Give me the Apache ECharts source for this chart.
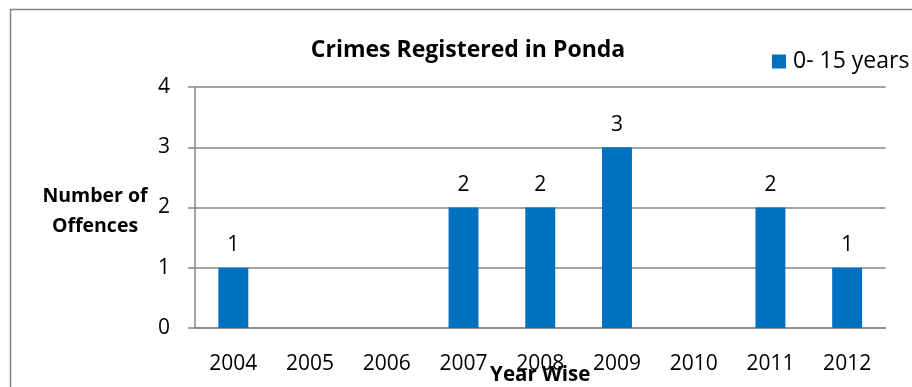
<!DOCTYPE html>
<html>
<head>
<meta charset="utf-8">
<script src="https://cdn.jsdelivr.net/npm/echarts@6/dist/echarts.min.js"></script>
<style>
  html, body { margin: 0; padding: 0; background: #fff; }
  #chart { width: 912px; height: 387px; }
</style>
</head>
<body>
<div id="chart"></div>
<script>
// Offences registered per year, age group 0-15
const years = ['2004', '2005', '2006', '2007', '2008', '2009', '2010', '2011', '2012'];
const offences = [1, null, null, 2, 2, 3, null, 2, 1];
const seriesName = '0- 15 years';
const yTicks = [0, 1, 2, 3, 4];

const FONT = '"Open Sans", "Noto Sans", sans-serif';
const GRAY = '#868686';

const chart = echarts.init(document.getElementById('chart'), null, { renderer: 'canvas' });
chart.setOption({
  animation: false,
  textStyle: { fontFamily: FONT },
  graphic: [{
    type: 'rect',
    shape: { x: 10.5, y: 9.5, width: 940, height: 420 },
    style: { fill: 'none', stroke: GRAY, lineWidth: 1.5 },
    silent: true
  }, {
    type: 'text',
    x: 95,
    y: 211,
    style: {
      text: 'Number of\nOffences',
      font: 'bold 19.5px ' + FONT,
      fill: '#000',
      align: 'center',
      verticalAlign: 'middle',
      lineHeight: 30
    }
  }],
  title: {
    text: 'Crimes Registered in Ponda',
    left: 463,
    top: 34,
    textAlign: 'center',
    textStyle: { fontFamily: FONT, fontWeight: 'bold', fontSize: 23, color: '#000' }
  },
  legend: {
    data: [seriesName],
    left: 772,
    top: 50,
    padding: 0,
    itemWidth: 14,
    itemHeight: 14,
    icon: 'rect',
    textStyle: { fontFamily: FONT, fontSize: 23, color: '#000', padding: [0, 0, 0, 2] }
  },
  grid: { left: 195, right: 26.5, top: 87, bottom: 59, outerBoundsMode: 'none' },
  xAxis: {
    type: 'category',
    data: years,
    name: 'Year Wise',
    nameLocation: 'middle',
    nameGap: 37,
    nameMoveOverlap: false,
    nameTextStyle: { fontFamily: FONT, fontWeight: 'bold', fontSize: 20.5, color: '#000' },
    axisLine: { lineStyle: { color: GRAY, width: 1.5 } },
    axisTick: { length: 7, lineStyle: { color: GRAY, width: 1.5 } },
    axisLabel: { fontFamily: FONT, fontSize: 21, color: '#000', margin: 26 }
  },
  yAxis: {
    type: 'value',
    min: yTicks[0],
    max: yTicks[yTicks.length - 1],
    interval: 1,
    axisLine: { show: true, lineStyle: { color: GRAY, width: 1.5 } },
    axisTick: { show: true, length: 7, lineStyle: { color: GRAY, width: 1.5 } },
    axisLabel: { fontFamily: FONT, fontSize: 21, color: '#000', margin: 25 },
    splitLine: { lineStyle: { color: GRAY, width: 1.5 } }
  },
  series: [{
    name: seriesName,
    type: 'bar',
    data: offences,
    barWidth: '39%',
    itemStyle: { color: '#0070C0' },
    label: {
      show: true,
      position: 'top',
      distance: 12,
      fontFamily: FONT,
      fontSize: 21,
      color: '#000'
    }
  }]
});
</script>
</body>
</html>
